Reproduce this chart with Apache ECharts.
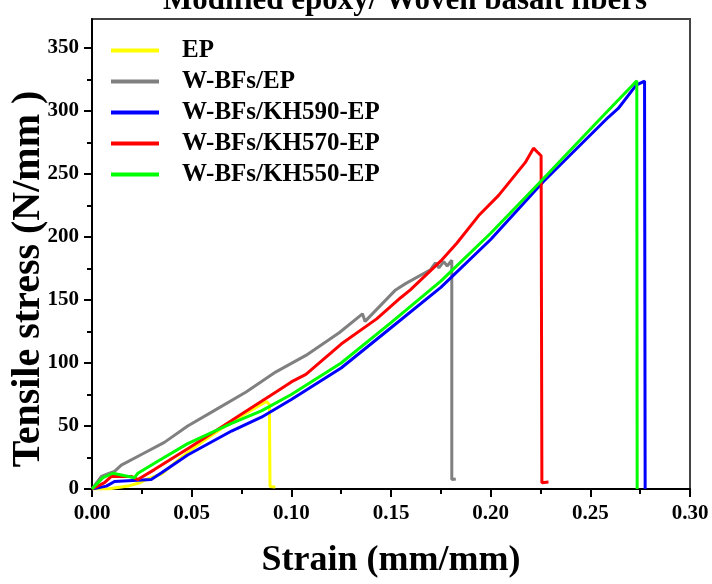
<!DOCTYPE html>
<html>
<head>
<meta charset="utf-8">
<script src="https://cdn.jsdelivr.net/npm/echarts@6/dist/echarts.min.js"></script>
<style>
  html, body { margin: 0; padding: 0; background: #fff; }
  #main { width: 712px; height: 584px; }
</style>
</head>
<body>
<div id="main"></div>
<script>
// strain (mm/mm), stress pairs
var seriesNames = ['EP', 'W-BFs/EP', 'W-BFs/KH590-EP', 'W-BFs/KH570-EP', 'W-BFs/KH550-EP'];
var seriesColors = ['#ffff00', '#808080', '#0000ff', '#ff0000', '#00ff00'];

var epData = [[0, 0], [0.008, 0], [0.018, 2.3], [0.024, 5], [0.027, 7.5], [0.035, 12], [0.041, 20],
  [0.048, 29], [0.055, 37], [0.065, 48], [0.075, 58], [0.0875, 69.5], [0.089, 67], [0.0893, 2], [0.092, 1.5]];

var bfData = [[0, 0], [0.0047, 10], [0.0088, 12.5], [0.0113, 14], [0.0147, 19], [0.0255, 28], [0.0363, 37],
  [0.048, 50], [0.06, 61], [0.0773, 77], [0.0923, 93], [0.1073, 106], [0.124, 124], [0.1357, 139],
  [0.137, 133], [0.1523, 158], [0.1573, 163], [0.1698, 174], [0.1723, 179.5], [0.174, 175.5],
  [0.1765, 180.5], [0.1782, 177], [0.1805, 181.5], [0.1805, 7.5], [0.1825, 8]];

var kh590Data = [[0, 0], [0.0072, 2.3], [0.0113, 6], [0.0297, 7.5], [0.0347, 12.7], [0.048, 27], [0.07, 46],
  [0.085, 57], [0.1, 71], [0.125, 96], [0.15, 128], [0.175, 160], [0.2, 198], [0.2265, 244],
  [0.259, 295], [0.264, 302], [0.273, 320.5], [0.2772, 323.7], [0.2775, 0]];

var kh570Data = [[0, 0], [0.0063, 5], [0.0097, 10], [0.0197, 10], [0.023, 7.5], [0.0313, 15.4], [0.048, 32],
  [0.06, 44], [0.0745, 59], [0.0923, 77], [0.1, 85], [0.1073, 91], [0.125, 115], [0.1428, 135],
  [0.155, 152], [0.1597, 158], [0.175, 181], [0.183, 195], [0.194, 217], [0.204, 233], [0.2173, 259],
  [0.2215, 270.5], [0.224, 266.5], [0.2253, 264.5], [0.2257, 5], [0.229, 5.5]];

var kh550Data = [[0, 0], [0.0055, 9], [0.0105, 12.5], [0.0213, 9], [0.023, 12.5], [0.033, 22], [0.048, 36],
  [0.07, 52], [0.085, 62], [0.1, 75], [0.125, 100], [0.15, 132], [0.175, 165], [0.2, 203],
  [0.2257, 245], [0.2557, 295], [0.2715, 321], [0.2733, 324], [0.2735, 0]];

var allData = [epData, bfData, kh590Data, kh570Data, kh550Data];

var yMajor = [0, 50, 100, 150, 200, 250, 300, 350];
var yMinor = [25, 75, 125, 175, 225, 275, 325];

var serif = '"Liberation Serif", "Times New Roman", serif';

var series = [];
for (var i = 0; i < seriesNames.length; i++) {
    series.push({
        name: seriesNames[i],
        type: 'line',
        data: allData[i],
        showSymbol: false,
        symbol: 'none',
        lineStyle: { color: seriesColors[i], width: 3 },
        itemStyle: { color: seriesColors[i] }
    });
}

var option = {
    animation: false,
    backgroundColor: '#fff',
    graphic: [{
        // title, cut off at the top edge like in the picture
        type: 'text',
        style: {
            x: 405, y: 1,
            text: 'Modified epoxy/ Woven basalt fibers',
            font: 'bold 31px ' + serif,
            fill: '#000',
            textAlign: 'center',
            textVerticalAlign: 'middle'
        }
    }, {
        // y axis title
        type: 'text',
        x: 29, y: 279,
        rotation: Math.PI / 2,
        style: {
            x: 0, y: 0,
            text: 'Tensile stress (N/mm )',
            font: 'bold 40px ' + serif,
            fill: '#000',
            textAlign: 'center',
            textVerticalAlign: 'middle'
        }
    }],
    grid: {
        left: 92, right: 22, top: 19, bottom: 83,
        show: true,
        borderColor: '#444',
        borderWidth: 2
    },
    legend: {
        orient: 'vertical',
        left: 106,
        top: 33,
        icon: 'rect',
        itemWidth: 48,
        itemHeight: 4,
        itemGap: 6,
        data: seriesNames,
        textStyle: {
            fontFamily: serif,
            fontWeight: 'bold',
            fontSize: 25,
            color: '#000',
            padding: [0, 0, 0, 18]
        }
    },
    xAxis: {
        type: 'value',
        min: 0,
        max: 0.30,
        interval: 0.05,
        name: 'Strain (mm/mm)',
        nameLocation: 'middle',
        nameGap: 54,
        nameTextStyle: { fontFamily: serif, fontWeight: 'bold', fontSize: 36, color: '#000' },
        axisLine: { lineStyle: { color: '#000', width: 2 } },
        axisTick: { length: 8, lineStyle: { color: '#000', width: 2 } },
        minorTick: { show: true, splitNumber: 2, length: 5, lineStyle: { color: '#000', width: 2 } },
        splitLine: { show: false },
        axisLabel: {
            margin: 14,
            fontFamily: serif, fontWeight: 'bold', fontSize: 21, color: '#000',
            formatter: function (v) { return v.toFixed(2); }
        }
    },
    yAxis: [{
        type: 'value',
        min: 0,
        max: 373,
        axisLine: { lineStyle: { color: '#000', width: 2 } },
        axisTick: { length: 5, lineStyle: { color: '#000', width: 2 }, customValues: yMinor },
        splitLine: { show: false },
        axisLabel: {
            margin: 13,
            fontFamily: serif, fontWeight: 'bold', fontSize: 21, color: '#000',
            customValues: yMajor
        }
    }, {
        type: 'value',
        min: 0,
        max: 373,
        position: 'left',
        axisLine: { show: false },
        axisTick: { length: 8, lineStyle: { color: '#000', width: 2 }, customValues: yMajor },
        axisLabel: { show: false },
        splitLine: { show: false }
    }],
    series: series
};

var myChart = echarts.init(document.getElementById('main'));
myChart.setOption(option);
</script>
</body>
</html>
